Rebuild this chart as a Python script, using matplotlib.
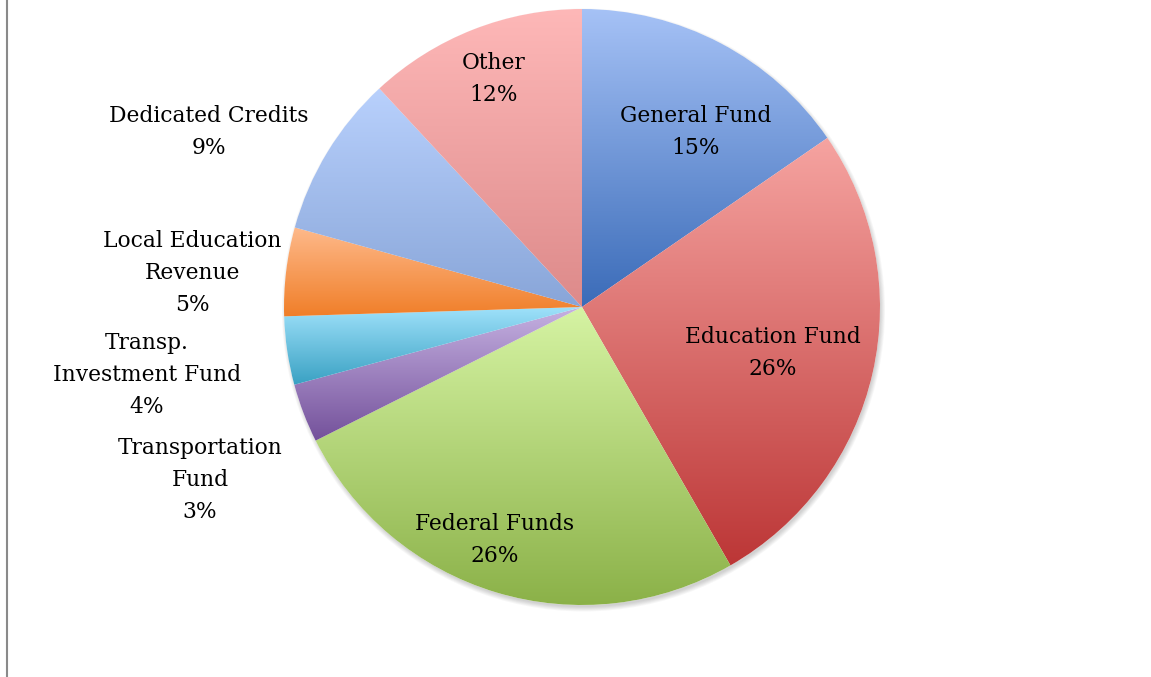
import numpy as np
import matplotlib
matplotlib.use("Agg")
import matplotlib.pyplot as plt
from matplotlib.colors import LinearSegmentedColormap
from matplotlib.patches import Circle
from matplotlib.lines import Line2D

# ---- data ----
categories = ["General Fund", "Education Fund", "Federal Funds", "Transportation\nFund",
              "Transp.\nInvestment Fund", "Local Education\nRevenue", "Dedicated Credits", "Other"]
values = [15.4, 26.3, 25.9, 3.2, 3.7, 4.8, 8.8, 11.9]
top_colors = ["#a6c2f6", "#f6a4a1", "#d6f4a4", "#c6b2e2", "#a0e2fb", "#feba8c", "#b9d1fd", "#feb8b8"]
bottom_colors = ["#3a6bb8", "#bc3636", "#8bb148", "#73509a", "#38a0c2", "#f07e28", "#88a5d8", "#dd8a8a"]

# ---- layout (pixels) ----
W, H = 1151, 677
cx, cy, R = 582, 307, 298
label_pos = [(696, 132), (773, 353), (495, 540), (200, 480),
             (147, 375), (192, 273), (209, 132), (494, 79)]

fig = plt.figure(figsize=(W / 100, H / 100), dpi=100)
ax = fig.add_axes([0, 0, 1, 1])
ax.set_xlim(0, W)
ax.set_ylim(H, 0)
ax.axis("off")

# soft shadow (offset down-right)
for k in range(6):
    ax.add_patch(Circle((cx + 1.5, cy + 3), R - 1 + k * 0.9, color="black",
                        alpha=0.03, lw=0, zorder=0))
ax.add_patch(Circle((cx, cy), R, color="white", lw=0, zorder=0.5))

# y axis inverted: data angle -90 is visually up, counterclock in data is visually clockwise
wedges, _ = ax.pie(values, startangle=-90, counterclock=True, center=(cx, cy), radius=R,
                   frame=False, wedgeprops=dict(linewidth=0, edgecolor="none"))
ax.set_xlim(0, W)
ax.set_ylim(H, 0)
ax.set_aspect("equal")

inv = ax.transData.inverted()
for w, c1, c2 in zip(wedges, top_colors, bottom_colors):
    w.set_facecolor("none")
    dv = inv.transform(w.get_verts())
    x0, x1 = dv[:, 0].min(), dv[:, 0].max()
    y0, y1 = dv[:, 1].min(), dv[:, 1].max()
    cmap = LinearSegmentedColormap.from_list("g", [c1, c2])
    grad = np.linspace(0, 1, 256).reshape(-1, 1)
    im = ax.imshow(grad, cmap=cmap, extent=(x0 - 1, x1 + 1, y1 + 1, y0 - 1),
                   aspect="auto", interpolation="bilinear", zorder=1)
    im.set_clip_path(w)

ax.set_xlim(0, W)
ax.set_ylim(H, 0)

for (lx, ly), name, v in zip(label_pos, categories, values):
    ax.text(lx, ly, f"{name}\n{v:.0f}%", ha="center", va="center", fontsize=15.7,
            family="DejaVu Serif", color="black", linespacing=1.6, zorder=3)

fig.add_artist(Line2D([6.5 / W, 6.5 / W], [0, 1], color="#8a8a8a", lw=1.5))

fig.savefig("out.png", dpi=100)
